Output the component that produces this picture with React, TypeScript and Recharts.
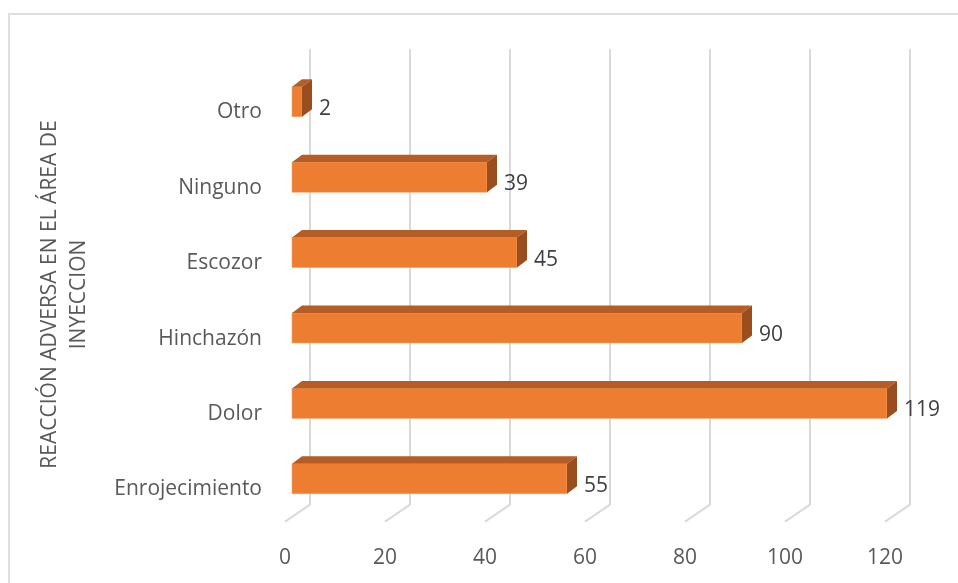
import React from 'react';
import { BarChart, Bar, XAxis, YAxis, CartesianGrid } from 'recharts';

const categories = ['Enrojecimiento', 'Dolor', 'Hinchazón', 'Escozor', 'Ninguno', 'Otro'];
const values = [55, 119, 90, 45, 39, 2];
const xTicks = [0, 20, 40, 60, 80, 100, 120];
const titleLines = ['REACCIÓN ADVERSA EN EL ÁREA DE', 'INYECCION'];

const data = categories.map((name, i) => ({ name, value: values[i] }));

const FONT = '"Open Sans", "Noto Sans", sans-serif';
const FS = 21;
const TEXT = '#595959';
const GRID = '#d9d9d9';
const DX = 10;
const DY = 7.5;
const SHIFT = 9.5;
const BACK = 18;
const FRONT = -7;
const X_MAX = 120;

function Box3D(props: any) {
  const { x, y, width, height, payload } = props;
  if (width == null || isNaN(width)) return null;
  const yy = y - SHIFT;
  const w = width;
  const h = height;
  const top = `${x},${yy} ${x + DX},${yy - DY} ${x + w + DX},${yy - DY} ${x + w},${yy}`;
  const side = `${x + w},${yy} ${x + w + DX},${yy - DY} ${x + w + DX},${yy + h - DY} ${x + w},${yy + h}`;
  return (
    <g>
      <rect x={x} y={yy} width={w} height={h} fill="#ED7D31" stroke="#F4A46A" strokeWidth={0.6} />
      <polygon points={top} fill="#B55D24" />
      <polygon points={side} fill="#9A4E1E" />
      <text
        x={x + w + DX + 7}
        y={yy + h / 2 + 5}
        dominantBaseline="central"
        fill="#404040"
        fontSize={FS}
        fontFamily={FONT}
      >
        {payload.value}
      </text>
    </g>
  );
}

function XTick(props: any) {
  const { x, y, payload } = props;
  return (
    <g>
      <line x1={x + FRONT} y1={y - 4} x2={x + BACK} y2={y - 21} stroke={GRID} strokeWidth={2} />
      <text
        x={x + FRONT}
        y={y + 30}
        textAnchor="middle"
        dominantBaseline="central"
        fill={TEXT}
        fontSize={FS}
        fontFamily={FONT}
      >
        {payload.value}
      </text>
    </g>
  );
}

function AxisTitle(props: any) {
  const vb = props.viewBox || { x: 0, y: 65, width: 284, height: 453 };
  const cy = vb.y + vb.height / 2 - 5;
  const xs = [39.5, 69];
  return (
    <g>
      {titleLines.map((t, i) => (
        <text
          key={i}
          x={xs[i]}
          y={cy}
          transform={`rotate(-90, ${xs[i]}, ${cy})`}
          textAnchor="middle"
          dominantBaseline="central"
          fill={TEXT}
          fontSize={FS}
          fontFamily={FONT}
        >
          {t}
        </text>
      ))}
    </g>
  );
}

function gridX(xAxis: any, offset: any, t: number): number {
  const s = xAxis && xAxis.scale;
  if (typeof s === 'function') {
    const v = s(t);
    if (typeof v === 'number' && !isNaN(v)) return v;
  }
  if (s && typeof s.map === 'function') {
    const v = s.map(t);
    if (typeof v === 'number' && !isNaN(v)) return v;
  }
  if (s && typeof s.scale === 'function') {
    const v = s.scale(t);
    if (typeof v === 'number' && !isNaN(v)) return v;
  }
  return offset.left + (offset.width * t) / X_MAX;
}

export default function App() {
  return (
    <div style={{ position: 'relative', width: 950, height: 567, fontFamily: FONT }}>
      <div
        style={{
          position: 'fixed',
          left: 8,
          top: 13,
          right: 0,
          bottom: 0,
          borderTop: '2px solid #dedede',
          borderLeft: '2px solid #dedede',
          boxSizing: 'border-box',
          pointerEvents: 'none',
        }}
      />
      <BarChart
        width={950}
        height={567}
        data={data}
        layout="vertical"
        margin={{ top: 65.3, right: 66, bottom: 0, left: 0 }}
        barSize={30}
      >
        <CartesianGrid
          horizontal={false}
          vertical={true}
          stroke={GRID}
          strokeWidth={2}
          y={41}
          height={456}
          verticalCoordinatesGenerator={({ xAxis, offset }: any) =>
            xTicks.map((t) => gridX(xAxis, offset, t) + BACK)
          }
        />
        <XAxis
          type="number"
          dataKey="value"
          domain={[0, X_MAX]}
          ticks={xTicks}
          interval={0}
          axisLine={false}
          tickLine={false}
          tickSize={0}
          tickMargin={0}
          height={49.3}
          tick={<XTick />}
        />
        <YAxis
          type="category"
          dataKey="name"
          reversed
          width={284}
          axisLine={false}
          tickLine={false}
          tickSize={0}
          tickMargin={30}
          interval={0}
          tick={{ fill: TEXT, fontSize: FS, fontFamily: FONT }}
          label={<AxisTitle />}
        />
        <Bar dataKey="value" shape={<Box3D />} isAnimationActive={false} />
      </BarChart>
    </div>
  );
}
